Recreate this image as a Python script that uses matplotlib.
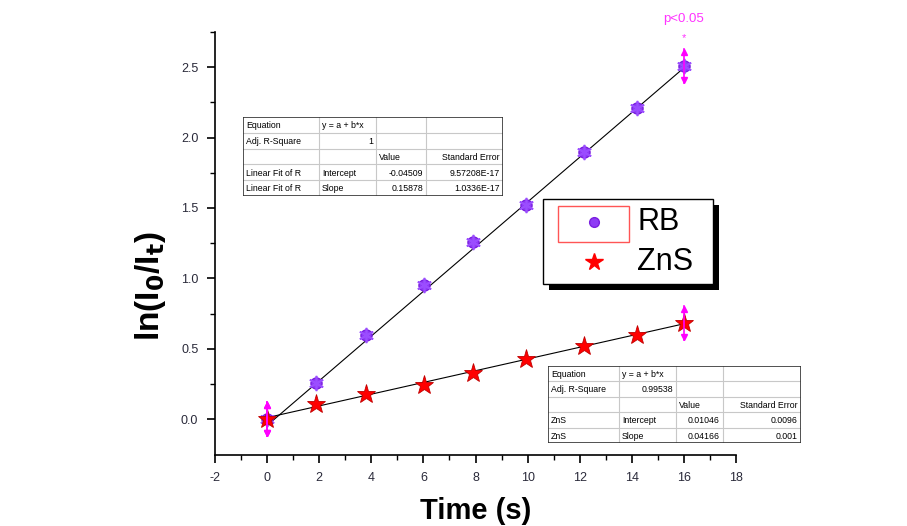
import numpy as np
import matplotlib.pyplot as plt
from matplotlib.patches import Rectangle
from matplotlib.lines import Line2D

plt.rcParams["font.family"] = ["Liberation Sans", "DejaVu Sans"]
plt.rcParams["axes.unicode_minus"] = False

# data
time_s = [0, 1.88, 3.79, 6.02, 7.89, 9.92, 12.18, 14.21, 16.0]
rb = [0.0, 0.26, 0.595, 0.95, 1.26, 1.52, 1.90, 2.21, 2.51]
zns = [0.0, 0.11, 0.18, 0.24, 0.33, 0.43, 0.52, 0.595, 0.68]
series_names = ["RB", "ZnS"]

# fit results shown in the tables
rb_fit = (-0.04509, 0.15878)
zns_fit = (0.01046, 0.04166)
err_idx = [0, 8]
err_size = 0.12

rb_table = [["Equation", "y = a + b*x", "", ""],
            ["Adj. R-Square", "1", "", ""],
            ["", "", "Value", "Standard Error"],
            ["Linear Fit of R", "Intercept", "-0.04509", "9.57208E-17"],
            ["Linear Fit of R", "Slope", "0.15878", "1.0336E-17"]]
zns_table = [["Equation", "y = a + b*x", "", ""],
             ["Adj. R-Square", "0.99538", "", ""],
             ["", "", "Value", "Standard Error"],
             ["ZnS", "Intercept", "0.01046", "0.0096"],
             ["ZnS", "Slope", "0.04166", "0.001"]]

W, H = 907, 526
fig = plt.figure(figsize=(W / 100, H / 100), dpi=100)
ax = fig.add_axes([215 / W, 1 - 455 / H, (736 - 215) / W, (455 - 32) / H])

t = np.array(time_s)
xf = np.array([0, t[-1]])
ax.plot(xf, rb_fit[0] + rb_fit[1] * xf, color="black", lw=0.8, zorder=2)
ax.plot(xf, zns_fit[0] + zns_fit[1] * xf, color="black", lw=0.8, zorder=2)

ax.plot(t, rb, ls="none", marker="o", ms=8, color="#8f3cf5", mec="#7a1fe0", zorder=3)
ax.plot(t, rb, ls="none", marker=(6, 2, 0), ms=11, color="none", mec="#9b4dff", mew=1.2, zorder=3)
ax.plot(t, zns, ls="none", marker="*", ms=14, color="red", mec="#c00000", mew=0.6, zorder=4)

# magenta error bars with arrow heads
for series in (rb, zns):
    for i in err_idx:
        x0, y0 = t[i], series[i]
        ax.plot([x0, x0], [y0 - err_size, y0 + err_size], color="#ff00ff", lw=1.2, zorder=5)
        ax.plot([x0], [y0 + err_size - 0.02], marker="^", ms=5, color="#ff00ff", zorder=5)
        ax.plot([x0], [y0 - err_size + 0.02], marker="v", ms=5, color="#ff00ff", zorder=5)

ax.text(t[-1], 2.84, "p<0.05", color="#ff33ff", fontsize=9.5, ha="center", va="center",
        clip_on=False)
ax.text(t[-1], 2.71, "*", color="#ff33ff", fontsize=8, ha="center", va="center",
        clip_on=False)

ax.set_xlim(-2, 18)
ax.set_ylim(-0.255, 2.74)
ax.set_xticks(np.arange(-2, 19, 2))
ax.set_xticks(np.arange(-1, 18, 2), minor=True)
ax.set_yticks(np.arange(0, 2.51, 0.5))
ax.set_yticks(np.arange(0.25, 2.76, 0.5), minor=True)
ax.yaxis.set_major_formatter(plt.FormatStrFormatter("%.1f"))
for s in ("top", "right"):
    ax.spines[s].set_visible(False)
for s in ("left", "bottom"):
    ax.spines[s].set_linewidth(1.2)
ax.tick_params(which="major", direction="out", length=6, width=1.2, labelsize=9,
               labelcolor="#2a2a3a", pad=6)
ax.tick_params(which="minor", direction="out", length=3.5, width=1.0)
ax.set_xlabel("Time (s)", fontsize=21, fontweight="bold")
ax.set_ylabel(r"ln(I$_\mathbf{0}$/I$_\mathbf{t}$)", fontsize=24, fontweight="bold")
ax.xaxis.set_label_coords(0.5, -0.1)
ax.yaxis.set_label_coords(-0.09, 0.40)


def draw_table(rows, x0, y0, x1, y1, col_edges):
    tax = fig.add_axes([x0 / W, 1 - y1 / H, (x1 - x0) / W, (y1 - y0) / H])
    tax.set_xlim(x0, x1)
    tax.set_ylim(y1, y0)
    tax.axis("off")
    tax.add_patch(Rectangle((x0, y0), x1 - x0, y1 - y0, fc="white", ec="none", zorder=0))
    nr = len(rows)
    rh = (y1 - y0) / nr
    for r in range(1, nr):
        tax.plot([x0, x1], [y0 + r * rh] * 2, color="#c8c8c8", lw=0.8)
    for c in col_edges[1:-1]:
        tax.plot([c, c], [y0, y1], color="#c8c8c8", lw=0.8)
    tax.add_patch(Rectangle((x0, y0), x1 - x0, y1 - y0, fc="none", ec="#333333",
                            lw=1.2, zorder=3))
    for r, row in enumerate(rows):
        yc = y0 + (r + 0.55) * rh
        for c, txt in enumerate(row):
            if not txt:
                continue
            right = (c == 3) or (c == 2 and r != 2) or (c == 1 and r == 1)
            if right:
                tax.text(col_edges[c + 1] - 3, yc, txt, fontsize=6.3, ha="right", va="center")
            else:
                tax.text(col_edges[c] + 3, yc, txt, fontsize=6.3, ha="left", va="center")


draw_table(rb_table, 243, 117, 503, 196, [243, 319, 376, 426, 503])
draw_table(zns_table, 548, 366, 801, 443, [548, 619, 676, 723, 801])

# legend box with solid shadow
fig.add_artist(Rectangle((549 / W, 1 - 290 / H), 170 / W, 85 / H,
                         transform=fig.transFigure, fc="black", ec="none", zorder=6))
fig.add_artist(Rectangle((543 / W, 1 - 284 / H), 170 / W, 85 / H,
                         transform=fig.transFigure, fc="white", ec="black", lw=1.0, zorder=7))
fig.add_artist(Rectangle((558 / W, 1 - 242 / H), 71 / W, 36 / H,
                         transform=fig.transFigure, fc="none", ec="#ff5555", lw=1.0, zorder=8))
fig.add_artist(Line2D([594 / W], [1 - 222 / H], transform=fig.transFigure, marker="o",
                      ms=7, color="#8f3cf5", mec="#7a1fe0", zorder=8))
fig.add_artist(Line2D([594 / W], [1 - 262 / H], transform=fig.transFigure, marker="*",
                      ms=13, color="red", zorder=8))
fig.text(637 / W, 1 - 222 / H, series_names[0], fontsize=22, va="center", zorder=9)
fig.text(637 / W, 1 - 262 / H, series_names[1], fontsize=22, va="center", zorder=9)

fig.savefig("out.png", dpi=100)
